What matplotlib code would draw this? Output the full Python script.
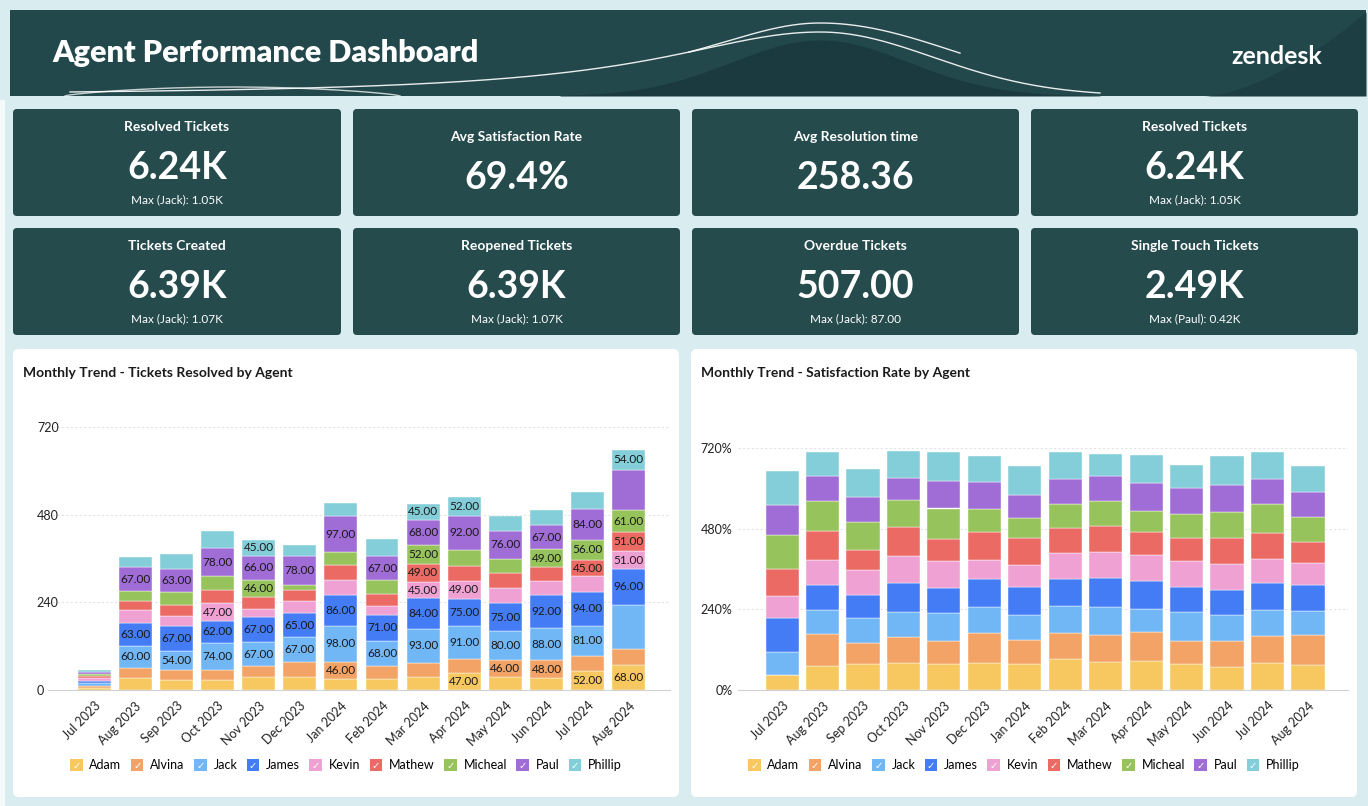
import numpy as np
import matplotlib.pyplot as plt
from matplotlib.patches import FancyBboxPatch, Rectangle
from matplotlib.legend_handler import HandlerBase
from matplotlib.patches import Patch
from matplotlib.text import Text

plt.rcParams['font.family'] = ['Lato', 'DejaVu Sans']

W, H = 1368, 806

months = ['Jul 2023', 'Aug 2023', 'Sep 2023', 'Oct 2023', 'Nov 2023', 'Dec 2023', 'Jan 2024',
          'Feb 2024', 'Mar 2024', 'Apr 2024', 'May 2024', 'Jun 2024', 'Jul 2024', 'Aug 2024']
agents = ['Adam', 'Alvina', 'Jack', 'James', 'Kevin', 'Mathew', 'Micheal', 'Paul', 'Phillip']
colors = ['#f6c85f', '#f2a365', '#72b7f5', '#437cf5', '#f0a1d4', '#eb6b64', '#97c35c', '#a06cd5', '#84ced9']

# tickets resolved per agent per month
resolved_adam = [5, 32, 27, 28, 36, 36, 31, 31, 36, 47, 36, 33, 52, 68]
resolved_alvina = [6, 29, 27, 26, 29, 42, 46, 36, 38, 37, 46, 48, 42, 43]
resolved_jack = [7, 60, 54, 74, 67, 67, 98, 68, 93, 91, 80, 88, 81, 123]
resolved_james = [8, 63, 67, 62, 67, 65, 86, 71, 84, 75, 75, 92, 94, 96]
resolved_kevin = [6, 36, 27, 47, 22, 33, 40, 25, 45, 49, 42, 37, 42, 51]
resolved_mathew = [6, 25, 31, 37, 34, 32, 41, 33, 49, 40, 41, 38, 45, 51]
resolved_micheal = [5, 25, 35, 37, 46, 13, 36, 36, 52, 45, 39, 49, 56, 61]
resolved_paul = [7, 67, 63, 78, 66, 78, 97, 67, 68, 92, 76, 67, 84, 110]
resolved_phillip = [6, 26, 41, 45, 45, 30, 37, 46, 45, 52, 42, 41, 46, 54]

# which segments carry a value label in the reference (month index -> agents)
resolved_labelled = {
    1: ['Paul', 'James', 'Jack'],
    2: ['Paul', 'James', 'Jack'],
    3: ['Paul', 'Kevin', 'James', 'Jack'],
    4: ['Phillip', 'Paul', 'Micheal', 'James', 'Jack'],
    5: ['Paul', 'James', 'Jack'],
    6: ['Paul', 'James', 'Jack', 'Alvina'],
    7: ['Paul', 'James', 'Jack'],
    8: ['Phillip', 'Paul', 'Micheal', 'Mathew', 'Kevin', 'James', 'Jack'],
    9: ['Phillip', 'Paul', 'Kevin', 'James', 'Jack', 'Adam'],
    10: ['Paul', 'James', 'Jack', 'Alvina'],
    11: ['Paul', 'Micheal', 'James', 'Jack', 'Alvina'],
    12: ['Paul', 'Micheal', 'Mathew', 'James', 'Jack', 'Adam'],
    13: ['Phillip', 'Micheal', 'Mathew', 'Kevin', 'James', 'Adam'],
}

# satisfaction rate (%) per agent per month
sat_adam = [46, 72, 77, 81, 76, 80, 77, 91, 82, 86, 77, 69, 79, 74]
sat_alvina = [0, 96, 63, 76, 71, 90, 72, 78, 82, 88, 69, 77, 83, 89]
sat_jack = [67, 71, 74, 76, 81, 76, 75, 81, 83, 67, 85, 78, 75, 72]
sat_james = [101, 74, 69, 86, 74, 83, 81, 81, 85, 84, 76, 74, 81, 76]
sat_kevin = [66, 73, 74, 81, 83, 57, 66, 76, 78, 78, 76, 76, 71, 66]
sat_mathew = [81, 86, 60, 84, 65, 85, 81, 76, 79, 66, 68, 78, 78, 64]
sat_micheal = [99, 90, 82, 80, 90, 67, 60, 69, 74, 65, 73, 77, 86, 74]
sat_paul = [90, 74, 76, 68, 82, 82, 69, 76, 73, 83, 77, 81, 75, 74]
sat_phillip = [103, 73, 82, 78, 87, 76, 84, 81, 65, 82, 69, 86, 80, 78]

kpi_titles = ['Resolved Tickets', 'Avg Satisfaction Rate', 'Avg Resolution time', 'Resolved Tickets',
              'Tickets Created', 'Reopened Tickets', 'Overdue Tickets', 'Single Touch Tickets']
kpi_values = ['6.24K', '69.4%', '258.36', '6.24K', '6.39K', '6.39K', '507.00', '2.49K']
kpi_subs = ['Max (Jack): 1.05K', '', '', 'Max (Jack): 1.05K',
            'Max (Jack): 1.07K', 'Max (Jack): 1.07K', 'Max (Jack): 87.00', 'Max (Paul): 0.42K']

resolved = [resolved_adam, resolved_alvina, resolved_jack, resolved_james, resolved_kevin,
            resolved_mathew, resolved_micheal, resolved_paul, resolved_phillip]
satisfaction = [sat_adam, sat_alvina, sat_jack, sat_james, sat_kevin,
                sat_mathew, sat_micheal, sat_paul, sat_phillip]


def px_box(x0, y0, x1, y1):
    return [x0 / W, 1 - y1 / H, (x1 - x0) / W, (y1 - y0) / H]


class CheckHandler(HandlerBase):
    def create_artists(self, legend, orig_handle, xdescent, ydescent, width, height, fontsize, trans):
        r = Rectangle((-xdescent, -ydescent), width, height, fc=orig_handle.get_facecolor(),
                      ec='none', transform=trans)
        t = Text(-xdescent + width / 2, -ydescent + height / 2 - 0.5, '✓', color='white',
                 ha='center', va='center', fontsize=fontsize * 0.8, family='DejaVu Sans',
                 transform=trans)
        return [r, t]


fig = plt.figure(figsize=(W / 100, H / 100), dpi=100)
fig.patch.set_facecolor('#d9ecf0')

# background: header, cards, panels
bg = fig.add_axes([0, 0, 1, 1], zorder=0)
bg.set_xlim(0, W)
bg.set_ylim(H, 0)
bg.axis('off')

bg.add_patch(Rectangle((0, 100), 5, H - 100, fc='#f4f9fa', ec='none'))
bg.add_patch(Rectangle((10, 10), 1356, 86, fc='#23484b', ec='none'))
xs = np.linspace(560, 1100, 300)
bg.fill_between(xs, 96, 96 - 56 * np.exp(-((xs - 820) / 125) ** 2), color='#1a3a3f', lw=0)
xr = np.linspace(1204, 1366, 100)
bg.fill_between(xr, 96, 96 - 84 * ((xr - 1204) / 162) ** 1.6, color='#1d3e42', lw=0)
xb = np.linspace(70, 1100, 500)
yb = np.where(xb < 820, 96 - 64 / (1 + ((xb - 820) / 194) ** 2), 96 - 64 * np.exp(-((xb - 820) / 160) ** 2))
bg.plot(xb, yb, color='white', lw=1.0, alpha=0.9)
xa = np.linspace(689, 960, 300)
ya = np.where(xa < 820, 96 - 73 / (1 + ((xa - 820) / 161) ** 2), 96 - 73 * np.exp(-((xa - 820) / 192) ** 2))
bg.plot(xa, ya, color='white', lw=1.0, alpha=0.9)
xc = np.linspace(65, 400, 200)
bg.plot(xc, 96 - 9 * np.sin(np.pi * (xc - 65) / 335) ** 0.7, color='white', lw=1.0, alpha=0.75)
bg.text(52, 53, 'Agent Performance Dashboard', color='white', fontsize=22, fontweight='heavy',
        va='center', ha='left')
bg.text(1322, 56, 'zendesk', color='white', fontsize=18, fontweight='bold', va='center', ha='right')

card_x = [(13, 341), (353, 680), (692, 1019), (1031, 1358)]
card_y = [(109, 216), (228, 335)]
for i, (title, value, sub) in enumerate(zip(kpi_titles, kpi_values, kpi_subs)):
    x0, x1 = card_x[i % 4]
    y0, y1 = card_y[i // 4]
    bg.add_patch(FancyBboxPatch((x0, y0), x1 - x0, y1 - y0, boxstyle='round,pad=0,rounding_size=4',
                                fc='#264b4d', ec='none'))
    cx = (x0 + x1) / 2
    off = 0 if sub else 10
    bg.text(cx, y0 + 18 + off, title, color='white', fontsize=10, fontweight='bold', ha='center', va='center')
    bg.text(cx, y0 + 59 + off, value, color='white', fontsize=27, fontweight='bold', ha='center', va='center')
    if sub:
        bg.text(cx, y0 + 91, sub, color='white', fontsize=8.5, ha='center', va='center')

for x0, x1 in [(13, 679), (691, 1357)]:
    bg.add_patch(FancyBboxPatch((x0, 349), x1 - x0, 448, boxstyle='round,pad=0,rounding_size=6',
                                fc='white', ec='none'))
bg.text(23, 373, 'Monthly Trend - Tickets Resolved by Agent', fontsize=10, fontweight='bold',
        color='#1a1a1a', va='center')
bg.text(701, 373, 'Monthly Trend - Satisfaction Rate by Agent', fontsize=10, fontweight='bold',
        color='#1a1a1a', va='center')

x = np.arange(len(months))


def style_axes(ax, fmt, left_align):
    ax.set_ylim(0, 720)
    ax.set_yticks([0, 240, 480, 720])
    ax.set_yticklabels([fmt(v) for v in [0, 240, 480, 720]], fontsize=9, color='#222222')
    ax.set_xticks(x)
    ax.set_xticklabels(months, rotation=45, ha='right', rotation_mode='anchor', fontsize=9, color='#222222')
    for v in [240, 480, 720]:
        ax.axhline(v, color='#e3e3e3', lw=0.8, ls=(0, (2, 2)), zorder=0)
    for s in ['top', 'right', 'left']:
        ax.spines[s].set_visible(False)
    ax.spines['bottom'].set_color('#d0d0d0')
    ax.tick_params(axis='x', length=0, pad=7)
    if left_align:
        ax.tick_params(axis='y', length=0, pad=8)
        for lab in ax.get_yticklabels():
            lab.set_ha('left')
    else:
        ax.tick_params(axis='y', length=0, pad=4)
    ax.set_facecolor('none')


# left chart: tickets resolved
ax1 = fig.add_axes(px_box(48, 427, 670, 690), zorder=2)
bottom = np.zeros(len(months))
for name, vals, col in zip(agents, resolved, colors):
    vals = np.array(vals, dtype=float)
    ax1.bar(x, vals, 0.8, bottom=bottom, color=col, edgecolor='white', linewidth=0.3)
    for i in range(len(months)):
        if name in resolved_labelled.get(i, []):
            ax1.text(x[i], bottom[i] + vals[i] / 2, f'{vals[i]:.2f}', ha='center', va='center',
                     fontsize=8.5, color='#1a1a1a')
    bottom += vals
ax1.set_xlim(-1.12, 14.0)
style_axes(ax1, lambda v: f'{v}', True)

# right chart: satisfaction rate
ax2 = fig.add_axes(px_box(738, 448, 1348, 690), zorder=2)
bottom = np.zeros(len(months))
for name, vals, col in zip(agents, satisfaction, colors):
    vals = np.array(vals, dtype=float)
    ax2.bar(x, vals, 0.82, bottom=bottom, color=col, edgecolor='white', linewidth=0.3)
    bottom += vals
ax2.set_xlim(-1.09, 13.99)
style_axes(ax2, lambda v: f'{v}%', False)

handles = [Patch(facecolor=c, label=a) for a, c in zip(agents, colors)]
for cx in [346, 1024]:
    fig.legend(handles=handles, loc='center', bbox_to_anchor=(cx / W, 1 - 765 / H), ncol=9,
               frameon=False, fontsize=9, handlelength=1.0, handleheight=1.1, handletextpad=0.55,
               columnspacing=0.75, handler_map={Patch: CheckHandler()})

fig.savefig('out.png', dpi=100, facecolor=fig.get_facecolor())
